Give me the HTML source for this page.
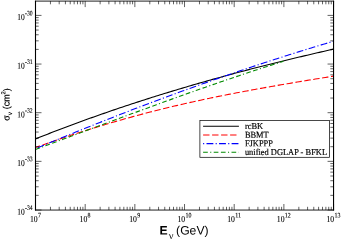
<!DOCTYPE html>
<html><head><meta charset="utf-8"><title>chart</title>
<style>
html,body{margin:0;padding:0;background:#fff;}
body{width:341px;height:240px;position:relative;overflow:hidden;}
#c{position:absolute;left:0;top:0;width:341px;height:240px;will-change:transform;transform:translateZ(0);}
svg{display:block;}
text{fill:#000;}
</style></head><body>
<div id="c">
<svg width="341" height="240" viewBox="0 0 341 240">
<rect x="0" y="0" width="341" height="240" fill="#fff"/>
<path d="M35.45,138.94 L37.46,138.13 L39.48,137.33 L41.49,136.54 L43.50,135.74 L45.52,134.95 L47.53,134.16 L49.54,133.38 L51.56,132.59 L53.57,131.82 L55.58,131.04 L57.59,130.27 L59.61,129.50 L61.62,128.73 L63.63,127.97 L65.65,127.21 L67.66,126.46 L69.67,125.70 L71.69,124.95 L73.70,124.21 L75.71,123.46 L77.73,122.72 L79.74,121.98 L81.75,121.25 L83.77,120.52 L85.78,119.79 L87.79,119.06 L89.81,118.34 L91.82,117.62 L93.83,116.90 L95.85,116.19 L97.86,115.48 L99.87,114.77 L101.88,114.06 L103.90,113.36 L105.91,112.66 L107.92,111.97 L109.94,111.27 L111.95,110.58 L113.96,109.89 L115.98,109.21 L117.99,108.53 L120.00,107.85 L122.02,107.17 L124.03,106.50 L126.04,105.83 L128.06,105.16 L130.07,104.49 L132.08,103.83 L134.10,103.17 L136.11,102.51 L138.12,101.86 L140.14,101.20 L142.15,100.55 L144.16,99.91 L146.17,99.26 L148.19,98.62 L150.20,97.98 L152.21,97.35 L154.23,96.71 L156.24,96.08 L158.25,95.45 L160.27,94.83 L162.28,94.20 L164.29,93.58 L166.31,92.96 L168.32,92.35 L170.33,91.74 L172.35,91.12 L174.36,90.52 L176.37,89.91 L178.39,89.31 L180.40,88.70 L182.41,88.11 L184.43,87.51 L186.44,86.92 L188.45,86.32 L190.46,85.73 L192.48,85.15 L194.49,84.56 L196.50,83.98 L198.52,83.40 L200.53,82.82 L202.54,82.25 L204.56,81.67 L206.57,81.10 L208.58,80.54 L210.60,79.97 L212.61,79.40 L214.62,78.84 L216.64,78.28 L218.65,77.73 L220.66,77.17 L222.68,76.62 L224.69,76.07 L226.70,75.52 L228.71,74.97 L230.73,74.43 L232.74,73.88 L234.75,73.34 L236.77,72.80 L238.78,72.27 L240.79,71.73 L242.81,71.20 L244.82,70.67 L246.83,70.14 L248.85,69.62 L250.86,69.09 L252.87,68.57 L254.89,68.05 L256.90,67.53 L258.91,67.02 L260.93,66.50 L262.94,65.99 L264.95,65.48 L266.97,64.97 L268.98,64.46 L270.99,63.96 L273.00,63.45 L275.02,62.95 L277.03,62.45 L279.04,61.96 L281.06,61.46 L283.07,60.97 L285.08,60.47 L287.10,59.98 L289.11,59.49 L291.12,59.01 L293.14,58.52 L295.15,58.04 L297.16,57.56 L299.18,57.08 L301.19,56.60 L303.20,56.12 L305.22,55.65 L307.23,55.17 L309.24,54.70 L311.26,54.23 L313.27,53.76 L315.28,53.29 L317.29,52.83 L319.31,52.36 L321.32,51.90 L323.33,51.44 L325.35,50.98 L327.36,50.52 L329.37,50.07 L331.39,49.61 L333.40,49.16" fill="none" stroke="#000" stroke-width="1.1"/>
<path d="M35.45,147.58 L37.46,146.85 L39.48,146.13 L41.49,145.40 L43.50,144.68 L45.52,143.97 L47.53,143.26 L49.54,142.55 L51.56,141.85 L53.57,141.15 L55.58,140.46 L57.59,139.76 L59.61,139.08 L61.62,138.39 L63.63,137.71 L65.65,137.04 L67.66,136.37 L69.67,135.70 L71.69,135.03 L73.70,134.37 L75.71,133.72 L77.73,133.06 L79.74,132.42 L81.75,131.77 L83.77,131.13 L85.78,130.49 L87.79,129.86 L89.81,129.23 L91.82,128.60 L93.83,127.98 L95.85,127.36 L97.86,126.75 L99.87,126.13 L101.88,125.53 L103.90,124.92 L105.91,124.32 L107.92,123.73 L109.94,123.13 L111.95,122.55 L113.96,121.96 L115.98,121.38 L117.99,120.80 L120.00,120.23 L122.02,119.66 L124.03,119.09 L126.04,118.52 L128.06,117.97 L130.07,117.41 L132.08,116.86 L134.10,116.31 L136.11,115.76 L138.12,115.22 L140.14,114.68 L142.15,114.15 L144.16,113.62 L146.17,113.09 L148.19,112.57 L150.20,112.05 L152.21,111.53 L154.23,111.02 L156.24,110.51 L158.25,110.00 L160.27,109.50 L162.28,109.00 L164.29,108.50 L166.31,108.01 L168.32,107.52 L170.33,107.04 L172.35,106.55 L174.36,106.08 L176.37,105.60 L178.39,105.13 L180.40,104.66 L182.41,104.20 L184.43,103.74 L186.44,103.28 L188.45,102.82 L190.46,102.37 L192.48,101.93 L194.49,101.48 L196.50,101.04 L198.52,100.60 L200.53,100.17 L202.54,99.73 L204.56,99.31 L206.57,98.88 L208.58,98.46 L210.60,98.04 L212.61,97.62 L214.62,97.21 L216.64,96.79 L218.65,96.38 L220.66,95.98 L222.68,95.57 L224.69,95.17 L226.70,94.78 L228.71,94.38 L230.73,93.99 L232.74,93.59 L234.75,93.21 L236.77,92.82 L238.78,92.44 L240.79,92.05 L242.81,91.67 L244.82,91.30 L246.83,90.92 L248.85,90.55 L250.86,90.18 L252.87,89.81 L254.89,89.44 L256.90,89.07 L258.91,88.71 L260.93,88.35 L262.94,87.99 L264.95,87.63 L266.97,87.27 L268.98,86.92 L270.99,86.56 L273.00,86.21 L275.02,85.86 L277.03,85.51 L279.04,85.16 L281.06,84.81 L283.07,84.47 L285.08,84.13 L287.10,83.78 L289.11,83.44 L291.12,83.10 L293.14,82.76 L295.15,82.42 L297.16,82.08 L299.18,81.75 L301.19,81.41 L303.20,81.08 L305.22,80.74 L307.23,80.41 L309.24,80.08 L311.26,79.75 L313.27,79.42 L315.28,79.08 L317.29,78.75 L319.31,78.43 L321.32,78.10 L323.33,77.77 L325.35,77.44 L327.36,77.11 L329.37,76.78 L331.39,76.46 L333.40,76.13" fill="none" stroke="#ff0000" stroke-width="1.1" stroke-dasharray="6.4 2.6" stroke-dashoffset="1.5"/>
<path d="M35.45,148.73 L37.46,147.88 L39.48,147.04 L41.49,146.20 L43.50,145.36 L45.52,144.52 L47.53,143.68 L49.54,142.84 L51.56,142.01 L53.57,141.17 L55.58,140.34 L57.59,139.51 L59.61,138.68 L61.62,137.85 L63.63,137.03 L65.65,136.20 L67.66,135.38 L69.67,134.56 L71.69,133.74 L73.70,132.92 L75.71,132.10 L77.73,131.29 L79.74,130.48 L81.75,129.66 L83.77,128.85 L85.78,128.04 L87.79,127.24 L89.81,126.43 L91.82,125.62 L93.83,124.82 L95.85,124.02 L97.86,123.22 L99.87,122.42 L101.88,121.62 L103.90,120.83 L105.91,120.04 L107.92,119.24 L109.94,118.45 L111.95,117.66 L113.96,116.88 L115.98,116.09 L117.99,115.31 L120.00,114.52 L122.02,113.74 L124.03,112.96 L126.04,112.18 L128.06,111.41 L130.07,110.63 L132.08,109.86 L134.10,109.09 L136.11,108.32 L138.12,107.55 L140.14,106.78 L142.15,106.02 L144.16,105.26 L146.17,104.49 L148.19,103.73 L150.20,102.97 L152.21,102.22 L154.23,101.46 L156.24,100.71 L158.25,99.96 L160.27,99.21 L162.28,98.46 L164.29,97.71 L166.31,96.97 L168.32,96.22 L170.33,95.48 L172.35,94.74 L174.36,94.00 L176.37,93.27 L178.39,92.53 L180.40,91.80 L182.41,91.07 L184.43,90.34 L186.44,89.61 L188.45,88.88 L190.46,88.16 L192.48,87.43 L194.49,86.71 L196.50,85.99 L198.52,85.27 L200.53,84.56 L202.54,83.84 L204.56,83.13 L206.57,82.42 L208.58,81.71 L210.60,81.00 L212.61,80.30 L214.62,79.59 L216.64,78.89 L218.65,78.19 L220.66,77.49 L222.68,76.79 L224.69,76.10 L226.70,75.40 L228.71,74.71 L230.73,74.02 L232.74,73.33 L234.75,72.65 L236.77,71.96 L238.78,71.28 L240.79,70.60 L242.81,69.92 L244.82,69.24 L246.83,68.57 L248.85,67.89 L250.86,67.22 L252.87,66.55 L254.89,65.88 L256.90,65.22 L258.91,64.55 L260.93,63.89 L262.94,63.23 L264.95,62.57 L266.97,61.91 L268.98,61.26 L270.99,60.60 L273.00,59.95 L275.02,59.30 L277.03,58.65 L279.04,58.01 L281.06,57.36 L283.07,56.72 L285.08,56.08 L287.10,55.44 L289.11,54.81 L291.12,54.17 L293.14,53.54 L295.15,52.91 L297.16,52.28 L299.18,51.65 L301.19,51.03 L303.20,50.40 L305.22,49.78 L307.23,49.16 L309.24,48.54 L311.26,47.93 L313.27,47.31 L315.28,46.70 L317.29,46.09 L319.31,45.48 L321.32,44.88 L323.33,44.27 L325.35,43.67 L327.36,43.07 L329.37,42.47 L331.39,41.88 L333.40,41.28" fill="none" stroke="#0000ff" stroke-width="1.1" stroke-dasharray="1.1 2.3 6.85 2.3" stroke-dashoffset="1.0"/>
<path d="M35.45,149.49 L37.47,148.74 L39.48,148.00 L41.50,147.26 L43.51,146.51 L45.53,145.77 L47.55,145.02 L49.56,144.27 L51.58,143.53 L53.59,142.78 L55.61,142.03 L57.62,141.28 L59.64,140.54 L61.66,139.79 L63.67,139.04 L65.69,138.29 L67.70,137.54 L69.72,136.79 L71.74,136.04 L73.75,135.29 L75.77,134.54 L77.78,133.79 L79.80,133.04 L81.81,132.29 L83.83,131.54 L85.85,130.79 L87.86,130.04 L89.88,129.29 L91.89,128.54 L93.91,127.79 L95.93,127.04 L97.94,126.29 L99.96,125.54 L101.97,124.79 L103.99,124.04 L106.00,123.30 L108.02,122.55 L110.04,121.80 L112.05,121.05 L114.07,120.30 L116.08,119.56 L118.10,118.81 L120.12,118.06 L122.13,117.32 L124.15,116.57 L126.16,115.83 L128.18,115.08 L130.20,114.34 L132.21,113.60 L134.23,112.85 L136.24,112.11 L138.26,111.37 L140.27,110.63 L142.29,109.89 L144.31,109.15 L146.32,108.41 L148.34,107.67 L150.35,106.94 L152.37,106.20 L154.39,105.47 L156.40,104.73 L158.42,104.00 L160.43,103.27 L162.45,102.53 L164.46,101.80 L166.48,101.07 L168.50,100.35 L170.51,99.62 L172.53,98.89 L174.54,98.17 L176.56,97.44 L178.58,96.72 L180.59,96.00 L182.61,95.28 L184.62,94.56 L186.64,93.84 L188.65,93.12 L190.67,92.41 L192.69,91.69 L194.70,90.98 L196.72,90.27 L198.73,89.56 L200.75,88.85 L202.77,88.14 L204.78,87.44 L206.80,86.73 L208.81,86.03 L210.83,85.33 L212.85,84.63 L214.86,83.93 L216.88,83.23 L218.89,82.54 L220.91,81.84 L222.92,81.15 L224.94,80.46 L226.96,79.77 L228.97,79.09 L230.99,78.40 L233.00,77.72 L235.02,77.04 L237.04,76.36 L239.05,75.68 L241.07,75.01 L243.08,74.34 L245.10,73.66 L247.11,73.00 L249.13,72.33 L251.15,71.66 L253.16,71.00 L255.18,70.34 L257.19,69.68 L259.21,69.02 L261.23,68.37 L263.24,67.72 L265.26,67.07 L267.27,66.42 L269.29,65.77 L271.30,65.13 L273.32,64.49 L275.34,63.85 L277.35,63.21 L279.37,62.58 L281.38,61.95 L283.40,61.32" fill="none" stroke="#008b00" stroke-width="1.1" stroke-dasharray="4.7 2.4 1.1 2.4 4.7 2.5"/>
<path d="M35.50,210.0 v-6.0 M35.50,1.1 v6.0 M50.45,210.0 v-3.2 M50.45,1.1 v3.2 M59.20,210.0 v-3.2 M59.20,1.1 v3.2 M65.41,210.0 v-3.2 M65.41,1.1 v3.2 M70.22,210.0 v-3.2 M70.22,1.1 v3.2 M74.15,210.0 v-3.2 M74.15,1.1 v3.2 M77.48,210.0 v-3.2 M77.48,1.1 v3.2 M80.36,210.0 v-3.2 M80.36,1.1 v3.2 M82.90,210.0 v-3.2 M82.90,1.1 v3.2 M85.18,210.0 v-6.0 M85.18,1.1 v6.0 M100.13,210.0 v-3.2 M100.13,1.1 v3.2 M108.88,210.0 v-3.2 M108.88,1.1 v3.2 M115.08,210.0 v-3.2 M115.08,1.1 v3.2 M119.90,210.0 v-3.2 M119.90,1.1 v3.2 M123.83,210.0 v-3.2 M123.83,1.1 v3.2 M127.16,210.0 v-3.2 M127.16,1.1 v3.2 M130.04,210.0 v-3.2 M130.04,1.1 v3.2 M132.58,210.0 v-3.2 M132.58,1.1 v3.2 M134.85,210.0 v-6.0 M134.85,1.1 v6.0 M149.80,210.0 v-3.2 M149.80,1.1 v3.2 M158.55,210.0 v-3.2 M158.55,1.1 v3.2 M164.76,210.0 v-3.2 M164.76,1.1 v3.2 M169.57,210.0 v-3.2 M169.57,1.1 v3.2 M173.50,210.0 v-3.2 M173.50,1.1 v3.2 M176.83,210.0 v-3.2 M176.83,1.1 v3.2 M179.71,210.0 v-3.2 M179.71,1.1 v3.2 M182.25,210.0 v-3.2 M182.25,1.1 v3.2 M184.53,210.0 v-6.0 M184.53,1.1 v6.0 M199.48,210.0 v-3.2 M199.48,1.1 v3.2 M208.23,210.0 v-3.2 M208.23,1.1 v3.2 M214.43,210.0 v-3.2 M214.43,1.1 v3.2 M219.25,210.0 v-3.2 M219.25,1.1 v3.2 M223.18,210.0 v-3.2 M223.18,1.1 v3.2 M226.51,210.0 v-3.2 M226.51,1.1 v3.2 M229.39,210.0 v-3.2 M229.39,1.1 v3.2 M231.93,210.0 v-3.2 M231.93,1.1 v3.2 M234.20,210.0 v-6.0 M234.20,1.1 v6.0 M249.15,210.0 v-3.2 M249.15,1.1 v3.2 M257.90,210.0 v-3.2 M257.90,1.1 v3.2 M264.11,210.0 v-3.2 M264.11,1.1 v3.2 M268.92,210.0 v-3.2 M268.92,1.1 v3.2 M272.85,210.0 v-3.2 M272.85,1.1 v3.2 M276.18,210.0 v-3.2 M276.18,1.1 v3.2 M279.06,210.0 v-3.2 M279.06,1.1 v3.2 M281.60,210.0 v-3.2 M281.60,1.1 v3.2 M283.88,210.0 v-6.0 M283.88,1.1 v6.0 M298.83,210.0 v-3.2 M298.83,1.1 v3.2 M307.58,210.0 v-3.2 M307.58,1.1 v3.2 M313.78,210.0 v-3.2 M313.78,1.1 v3.2 M318.60,210.0 v-3.2 M318.60,1.1 v3.2 M322.53,210.0 v-3.2 M322.53,1.1 v3.2 M325.86,210.0 v-3.2 M325.86,1.1 v3.2 M328.74,210.0 v-3.2 M328.74,1.1 v3.2 M331.28,210.0 v-3.2 M331.28,1.1 v3.2 M333.55,210.0 v-6.0 M333.55,1.1 v6.0 M35.5,210.00 h6.0 M333.55,210.00 h-6.0 M35.5,195.35 h3.2 M333.55,195.35 h-3.2 M35.5,186.79 h3.2 M333.55,186.79 h-3.2 M35.5,180.71 h3.2 M333.55,180.71 h-3.2 M35.5,176.00 h3.2 M333.55,176.00 h-3.2 M35.5,172.14 h3.2 M333.55,172.14 h-3.2 M35.5,168.89 h3.2 M333.55,168.89 h-3.2 M35.5,166.06 h3.2 M333.55,166.06 h-3.2 M35.5,163.58 h3.2 M333.55,163.58 h-3.2 M35.5,161.35 h6.0 M333.55,161.35 h-6.0 M35.5,146.70 h3.2 M333.55,146.70 h-3.2 M35.5,138.14 h3.2 M333.55,138.14 h-3.2 M35.5,132.06 h3.2 M333.55,132.06 h-3.2 M35.5,127.35 h3.2 M333.55,127.35 h-3.2 M35.5,123.49 h3.2 M333.55,123.49 h-3.2 M35.5,120.24 h3.2 M333.55,120.24 h-3.2 M35.5,117.41 h3.2 M333.55,117.41 h-3.2 M35.5,114.93 h3.2 M333.55,114.93 h-3.2 M35.5,112.70 h6.0 M333.55,112.70 h-6.0 M35.5,98.05 h3.2 M333.55,98.05 h-3.2 M35.5,89.49 h3.2 M333.55,89.49 h-3.2 M35.5,83.41 h3.2 M333.55,83.41 h-3.2 M35.5,78.70 h3.2 M333.55,78.70 h-3.2 M35.5,74.84 h3.2 M333.55,74.84 h-3.2 M35.5,71.59 h3.2 M333.55,71.59 h-3.2 M35.5,68.76 h3.2 M333.55,68.76 h-3.2 M35.5,66.28 h3.2 M333.55,66.28 h-3.2 M35.5,64.05 h6.0 M333.55,64.05 h-6.0 M35.5,49.40 h3.2 M333.55,49.40 h-3.2 M35.5,40.84 h3.2 M333.55,40.84 h-3.2 M35.5,34.76 h3.2 M333.55,34.76 h-3.2 M35.5,30.05 h3.2 M333.55,30.05 h-3.2 M35.5,26.19 h3.2 M333.55,26.19 h-3.2 M35.5,22.94 h3.2 M333.55,22.94 h-3.2 M35.5,20.11 h3.2 M333.55,20.11 h-3.2 M35.5,17.63 h3.2 M333.55,17.63 h-3.2 M35.5,15.40 h6.0 M333.55,15.40 h-6.0" fill="none" stroke="#000" stroke-width="0.62"/>
<path d="M35.5,0.6500000000000001 V210.45 M333.55,0.6500000000000001 V210.45" fill="none" stroke="#000" stroke-width="1.1"/>
<path d="M34.95,1.1 H334.1 M34.95,210.05 H334.1" fill="none" stroke="#000" stroke-width="0.88"/>
<rect x="199.9" y="120.55" width="129.70000000000002" height="36.750000000000014" fill="#fff" stroke="#000" stroke-width="0.72"/>
<path d="M203.1,126.3 H238.9" stroke="#000" stroke-width="1.1"/>
<path d="M203.1,134.95 H238.9" stroke="#ff0000" stroke-width="1.1" stroke-dasharray="6.4 2.6"/>
<path d="M203.1,143.6 H238.9" stroke="#0000ff" stroke-width="1.1" stroke-dasharray="1.1 2.3 6.85 2.3"/>
<path d="M203.1,152.25 H238.9" stroke="#008b00" stroke-width="1.1" stroke-dasharray="4.7 2.4 1.1 2.4 4.7 2.5"/>
<text transform="translate(35.40,222.10) matrix(0.85,0.001,0,1,0,0)" font-family="'Liberation Serif', serif" font-size="9.1" text-anchor="middle" stroke="#000" stroke-width="0.12">10<tspan font-size="7.0" dy="-4.7" dx="0.4">7</tspan></text>
<text transform="translate(85.08,222.10) matrix(0.85,0.001,0,1,0,0)" font-family="'Liberation Serif', serif" font-size="9.1" text-anchor="middle" stroke="#000" stroke-width="0.12">10<tspan font-size="7.0" dy="-4.7" dx="0.4">8</tspan></text>
<text transform="translate(134.75,222.10) matrix(0.85,0.001,0,1,0,0)" font-family="'Liberation Serif', serif" font-size="9.1" text-anchor="middle" stroke="#000" stroke-width="0.12">10<tspan font-size="7.0" dy="-4.7" dx="0.4">9</tspan></text>
<text transform="translate(184.43,222.10) matrix(0.85,0.001,0,1,0,0)" font-family="'Liberation Serif', serif" font-size="9.1" text-anchor="middle" stroke="#000" stroke-width="0.12">10<tspan font-size="7.0" dy="-4.7" dx="0.4">10</tspan></text>
<text transform="translate(234.10,222.10) matrix(0.85,0.001,0,1,0,0)" font-family="'Liberation Serif', serif" font-size="9.1" text-anchor="middle" stroke="#000" stroke-width="0.12">10<tspan font-size="7.0" dy="-4.7" dx="0.4">11</tspan></text>
<text transform="translate(283.77,222.10) matrix(0.85,0.001,0,1,0,0)" font-family="'Liberation Serif', serif" font-size="9.1" text-anchor="middle" stroke="#000" stroke-width="0.12">10<tspan font-size="7.0" dy="-4.7" dx="0.4">12</tspan></text>
<text transform="translate(333.45,222.10) matrix(0.85,0.001,0,1,0,0)" font-family="'Liberation Serif', serif" font-size="9.1" text-anchor="middle" stroke="#000" stroke-width="0.12">10<tspan font-size="7.0" dy="-4.7" dx="0.4">13</tspan></text>
<text transform="translate(32.60,214.70) matrix(0.815,0.001,0,1,0,0)" font-family="'Liberation Serif', serif" font-size="9.1" text-anchor="end" stroke="#000" stroke-width="0.12">10<tspan font-size="7.0" dy="-4.7" dx="0.4">-34</tspan></text>
<text transform="translate(32.60,166.05) matrix(0.815,0.001,0,1,0,0)" font-family="'Liberation Serif', serif" font-size="9.1" text-anchor="end" stroke="#000" stroke-width="0.12">10<tspan font-size="7.0" dy="-4.7" dx="0.4">-33</tspan></text>
<text transform="translate(32.60,117.40) matrix(0.815,0.001,0,1,0,0)" font-family="'Liberation Serif', serif" font-size="9.1" text-anchor="end" stroke="#000" stroke-width="0.12">10<tspan font-size="7.0" dy="-4.7" dx="0.4">-32</tspan></text>
<text transform="translate(32.60,68.75) matrix(0.815,0.001,0,1,0,0)" font-family="'Liberation Serif', serif" font-size="9.1" text-anchor="end" stroke="#000" stroke-width="0.12">10<tspan font-size="7.0" dy="-4.7" dx="0.4">-31</tspan></text>
<text transform="translate(32.60,20.10) matrix(0.815,0.001,0,1,0,0)" font-family="'Liberation Serif', serif" font-size="9.1" text-anchor="end" stroke="#000" stroke-width="0.12">10<tspan font-size="7.0" dy="-4.7" dx="0.4">-30</tspan></text>
<text transform="translate(244.90,129.00) matrix(0.935,0.001,0,1,0,0)" font-family="'Liberation Serif', serif" font-size="9.0" text-anchor="start" stroke="#000" stroke-width="0.18">rcBK</text>
<text transform="translate(244.90,137.65) matrix(0.935,0.001,0,1,0,0)" font-family="'Liberation Serif', serif" font-size="9.0" text-anchor="start" stroke="#000" stroke-width="0.18">BBMT</text>
<text transform="translate(244.90,146.30) matrix(0.935,0.001,0,1,0,0)" font-family="'Liberation Serif', serif" font-size="9.0" text-anchor="start" stroke="#000" stroke-width="0.18">FJKPPP</text>
<text transform="translate(244.90,154.95) matrix(0.935,0.001,0,1,0,0)" font-family="'Liberation Serif', serif" font-size="9.0" text-anchor="start" stroke="#000" stroke-width="0.18">unified DGLAP - BFKL</text>
<text transform="translate(159.50,234.50) matrix(1,0.001,0,1,0,0)" font-family="'Liberation Sans', sans-serif" font-size="12.2" text-anchor="start" ><tspan font-weight="bold">E</tspan><tspan font-family="'Liberation Serif', serif" font-size="10.5" dy="4.6" dx="1.0">&#957;</tspan><tspan dy="-4.6" dx="2.7">(GeV)</tspan></text>
<text transform="translate(9.60,120.80) rotate(-90) matrix(0.96,0.001,0,1,0,0)" font-family="'Liberation Sans', sans-serif" font-size="9.3" text-anchor="start" stroke="#000" stroke-width="0.15">&#963;<tspan font-family="'Liberation Serif', serif" font-size="7" dy="2.5">&#957;</tspan><tspan dy="-2.5" dx="0.5"> (cm</tspan><tspan font-size="6" dy="-4.3">2</tspan><tspan dy="4.3">)</tspan></text>
</svg>
</div>
</body></html>
